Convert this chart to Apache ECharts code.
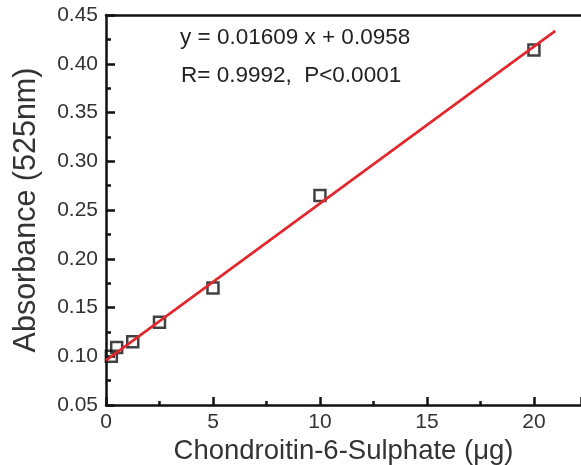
<!DOCTYPE html>
<html><head><meta charset="utf-8">
<script src="https://cdn.jsdelivr.net/npm/echarts@6/dist/echarts.min.js"></script>
<style>html,body{margin:0;padding:0;background:#fff}#c{width:581px;height:465px}</style>
</head><body><div id="c"></div>
<script>
var amounts = [0.25, 0.5, 1.25, 2.5, 5, 10, 20];
var absorbance = [0.100, 0.109, 0.115, 0.135, 0.170, 0.265, 0.414];
var slope = 0.01609, intercept = 0.0958;
var fitX = [0, 21];
var fitLine = fitX.map(function(x){ return [x, slope * x + intercept]; });
var eqText = 'y = 0.01609 x + 0.0958';
var statText = 'R= 0.9992,  P<0.0001';
var xTitle = 'Chondroitin-6-Sulphate (\u03bcg)';
var yTitle = 'Absorbance (525nm)';

var chart = echarts.init(document.getElementById('c'));
var font = 'Liberation Sans, Arial, sans-serif';
chart.setOption({
  animation: false,
  grid: {left: 106, top: 15, right: 0, bottom: 60, outerBoundsMode: 'none', containLabel: false},
  xAxis: [{
    type: 'value', min: 0, max: 22.2, interval: 5,
    axisLine: {show: true, onZero: false, lineStyle: {color: '#111', width: 2.5}},
    axisTick: {show: true, inside: true, length: 8, lineStyle: {color: '#111', width: 2.5}},
    minorTick: {show: true, splitNumber: 2, length: 4, lineStyle: {color: '#111', width: 2.5}},
    splitLine: {show: false},
    axisLabel: {color: '#333', fontSize: 21, fontFamily: font, margin: 7, showMaxLabel: false},
    name: xTitle, nameLocation: 'middle', nameGap: 27,
    nameTextStyle: {color: '#333', fontSize: 27.5, fontFamily: font}
  }, {
    type: 'value', position: 'top', min: 0, max: 22.2,
    axisLine: {show: true, lineStyle: {color: '#111', width: 2.5}},
    axisTick: {show: false}, axisLabel: {show: false}, splitLine: {show: false}
  }],
  yAxis: {
    type: 'value', min: 0.05, max: 0.45, interval: 0.05,
    axisLine: {show: true, onZero: false, lineStyle: {color: '#111', width: 2.5}},
    axisTick: {show: true, inside: true, length: 9, lineStyle: {color: '#111', width: 2.5}},
    minorTick: {show: true, splitNumber: 2, length: 5, lineStyle: {color: '#111', width: 2.5}},
    splitLine: {show: false},
    axisLabel: {color: '#333', fontSize: 21, fontFamily: font, margin: 8,
      formatter: function(v){ return v.toFixed(2); }},
    name: yTitle, nameLocation: 'middle', nameGap: 64,
    nameTextStyle: {color: '#333', fontSize: 30.5, fontFamily: font}
  },
  series: [{
    type: 'scatter', data: amounts.map(function(x, i){ return [x, absorbance[i]]; }),
    symbol: 'rect', symbolSize: 11,
    itemStyle: {color: 'rgba(255,255,255,0)', borderColor: '#111', borderWidth: 2.5}, z: 2
  }, {
    type: 'line', data: fitLine, showSymbol: false, symbol: 'none',
    lineStyle: {color: '#e3262b', width: 2.6}, z: 3
  }],
  graphic: [{
    type: 'text', left: 180, top: 26,
    style: {text: eqText, fill: '#222', fontSize: 22.5, fontFamily: font}
  }, {
    type: 'text', left: 181, top: 64,
    style: {text: statText, fill: '#222', fontSize: 22.5, fontFamily: font}
  }]
});
</script></body></html>
